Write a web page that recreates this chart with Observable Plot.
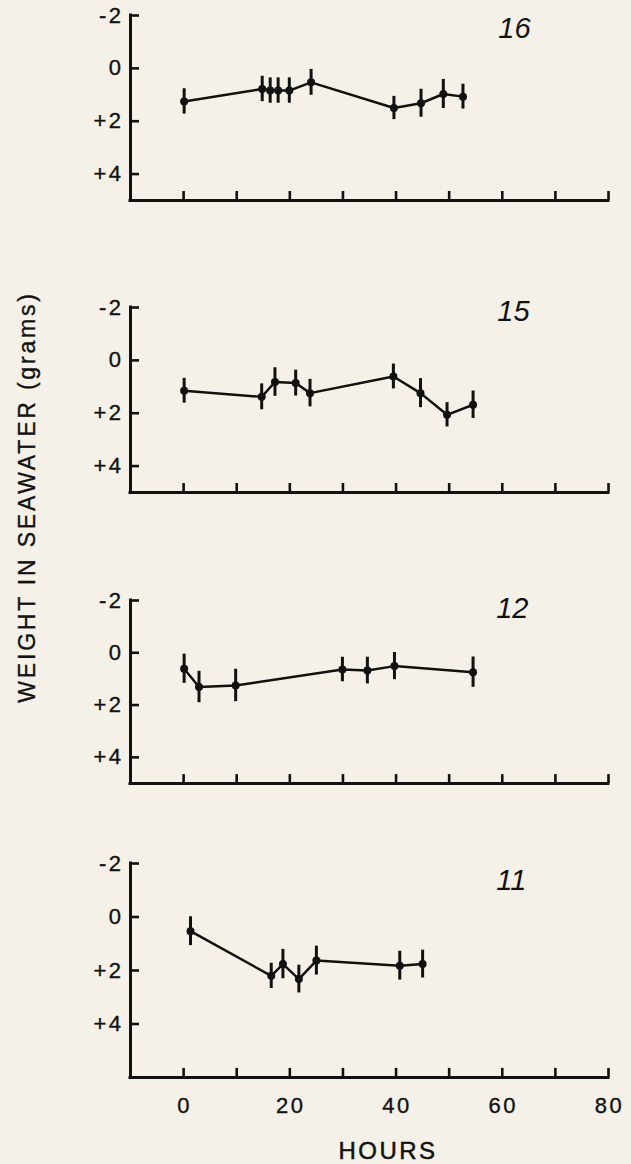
<!DOCTYPE html>
<html><head><meta charset="utf-8">
<script src="https://cdn.jsdelivr.net/npm/d3@7"></script>
<script src="https://cdn.jsdelivr.net/npm/@observablehq/plot@0.6"></script>
<style>
html,body{margin:0;padding:0;background:#f6f1e8;}
#root{position:relative;width:631px;height:1164px;overflow:hidden;font-family:"Liberation Sans",Arial,sans-serif;color:#111;}
.panel{position:absolute;left:0;}
.panel text{letter-spacing:2.5px;stroke:#111;stroke-width:0.35px;}
.panel g[font-style="italic"] text{letter-spacing:0;stroke-width:0;}
#ylabel{position:absolute;left:27px;top:497px;transform:translate(-50%,-50%) rotate(-90deg);white-space:nowrap;font-size:23px;letter-spacing:2.8px;line-height:1;-webkit-text-stroke:0.35px #111;}
#xlabel{position:absolute;left:388px;top:1139px;transform:translateX(-50%);white-space:nowrap;font-size:24px;letter-spacing:2.5px;line-height:24px;-webkit-text-stroke:0.5px #111;}
</style></head><body><div id="root"></div>
<script>
// Panel "16"
const hours16 = [0.1, 14.8, 16.3, 17.8, 19.9, 24.0, 39.6, 44.7, 48.9, 52.6];
const weight16 = [1.25, 0.78, 0.84, 0.84, 0.84, 0.53, 1.50, 1.32, 0.97, 1.07];
const err16 = [0.48, 0.48, 0.48, 0.48, 0.48, 0.49, 0.44, 0.53, 0.55, 0.47];
// Panel "15"
const hours15 = [0.1, 14.7, 17.2, 21.1, 23.8, 39.5, 44.6, 49.6, 54.5];
const weight15 = [1.15, 1.38, 0.82, 0.86, 1.24, 0.61, 1.24, 2.06, 1.68];
const err15 = [0.47, 0.49, 0.54, 0.49, 0.52, 0.47, 0.55, 0.46, 0.52];
// Panel "12"
const hours12 = [0.1, 2.9, 9.8, 29.9, 34.6, 39.7, 54.5];
const weight12 = [0.61, 1.31, 1.25, 0.64, 0.68, 0.51, 0.74];
const err12 = [0.56, 0.60, 0.62, 0.47, 0.51, 0.52, 0.58];
// Panel "11"
const hours11 = [1.3, 16.5, 18.7, 21.7, 25.0, 40.7, 45.0];
const weight11 = [0.53, 2.20, 1.76, 2.32, 1.63, 1.82, 1.76];
const err11 = [0.54, 0.47, 0.55, 0.52, 0.54, 0.54, 0.52];

const panelNames = ["16", "15", "12", "11"];
const xTicks = [0, 10, 20, 30, 40, 50, 60, 70, 80];
const xTickLabels = [0, 20, 40, 60, 80];
const yTicks = [-2, 0, 2, 4];
const yTickLabels = ["-2", "0", "+2", "+4"];
const xTitle = "HOURS";
const yTitle = "WEIGHT IN SEAWATER (grams)";

const panels = [
  {name: panelNames[0], hours: hours16, weight: weight16, err: err16, top: 15, yMax: 5, h: 185, lx: 62.3, ly: -1.5},
  {name: panelNames[1], hours: hours15, weight: weight15, err: err15, top: 307, yMax: 5, h: 185, lx: 62.1, ly: -1.85},
  {name: panelNames[2], hours: hours12, weight: weight12, err: err12, top: 600, yMax: 5, h: 183, lx: 61.9, ly: -1.7},
  {name: panelNames[3], hours: hours11, weight: weight11, err: err11, top: 863, yMax: 6, h: 214, lx: 61.7, ly: -1.36}
];

const root = document.getElementById("root");
const ink = "#111";
const font = "'Liberation Sans', Arial, sans-serif";
const xMin = -10, xMax = 80;
const tickLenX = 1.7;   // hours, ~9px
const tickLenY = 0.34;  // grams, ~9px

panels.forEach((p, k) => {
  const last = k === panels.length - 1;
  const data = p.hours.map((h, i) => ({h, w: p.weight[i], e: p.err[i]}));
  const mt = 12, mb = last ? 50 : 8;
  const chart = Plot.plot({
    width: 631,
    height: mt + p.h + mb,
    marginLeft: 130, marginRight: 23, marginTop: mt, marginBottom: mb,
    style: {background: "transparent", color: ink, fontFamily: font, fontSize: "22px", overflow: "visible"},
    x: {domain: [xMin, xMax], axis: null},
    y: {domain: [-2, p.yMax], reverse: true, axis: null},
    marks: [
      // y ticks (inward) and labels
      Plot.ruleY(yTicks, {y: d => d, x1: xMin, x2: xMin + tickLenX, stroke: ink, strokeWidth: 2.6}),
      Plot.text(yTicks, {x: xMin, y: d => d, text: d => yTickLabels[yTicks.indexOf(d)], textAnchor: "end", dx: -7, fontSize: 22, fill: ink}),
      // x ticks (inward)
      Plot.ruleX(xTicks, {x: d => d, y1: p.yMax, y2: p.yMax - tickLenY, stroke: ink, strokeWidth: 2.6}),
      last ? Plot.text(xTickLabels, {x: d => d, y: p.yMax, text: d => String(d), lineAnchor: "top", dy: 20, dx: 1, fontSize: 22, fill: ink}) : null,
      // axis lines
      Plot.ruleX([xMin], {y1: -2, y2: p.yMax, stroke: ink, strokeWidth: 3, strokeLinecap: "square"}),
      Plot.ruleY([p.yMax], {x1: xMin, x2: xMax, stroke: ink, strokeWidth: 3, strokeLinecap: "square"}),
      // data
      Plot.line(data, {x: "h", y: "w", stroke: ink, strokeWidth: 2.5}),
      Plot.ruleX(data, {x: "h", y1: d => d.w - d.e, y2: d => d.w + d.e, stroke: ink, strokeWidth: 3}),
      Plot.dot(data, {x: "h", y: "w", r: 4, fill: ink, stroke: null}),
      Plot.text([p.name], {x: p.lx, y: p.ly, text: d => d, fontSize: 29, fontStyle: "italic", fontFamily: "'Liberation Sans Narrow', 'Liberation Sans', sans-serif", fill: ink})
    ]
  });
  chart.classList.add("panel");
  chart.style.top = (p.top - mt) + "px";
  root.appendChild(chart);
});

const yl = document.createElement("div");
yl.id = "ylabel"; yl.textContent = yTitle; root.appendChild(yl);
const xl = document.createElement("div");
xl.id = "xlabel"; xl.textContent = xTitle; root.appendChild(xl);
</script>
</body></html>
